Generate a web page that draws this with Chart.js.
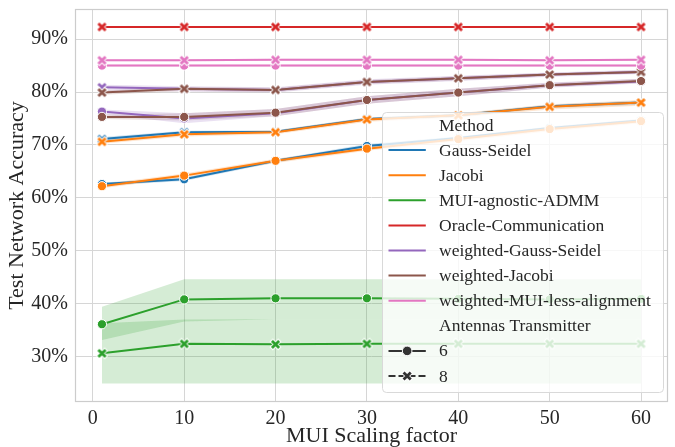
<!DOCTYPE html>
<html><head><meta charset="utf-8">
<script src="https://cdn.jsdelivr.net/npm/chart.js@4"></script>
<style>html,body{margin:0;padding:0;background:#fff;overflow:hidden}</style>
</head><body>
<canvas id="c" width="675" height="447"></canvas>
<script>
// ---------- DATA ----------
const xValues = [1, 10, 20, 30, 40, 50, 60];
const xTicks = [0, 10, 20, 30, 40, 50, 60];
const yTicks = [30, 40, 50, 60, 70, 80, 90];

const methods = ['Gauss-Seidel', 'Jacobi', 'MUI-agnostic-ADMM', 'Oracle-Communication',
                 'weighted-Gauss-Seidel', 'weighted-Jacobi', 'weighted-MUI-less-alignment'];
const methodColors = ['#1f77b4', '#ff7f0e', '#2ca02c', '#d62728', '#9467bd', '#8c564b', '#e377c2'];
const antennas = ['6', '8'];

// mean accuracy (%)
const gs6   = [62.6, 63.5, 67.0, 69.8, 71.3, 73.2, 74.6];
const gs8   = [71.1, 72.4, 72.5, 74.9, 75.6, 77.3, 78.0];
const jac6  = [62.2, 64.2, 67.0, 69.3, 71.1, 73.0, 74.5];
const jac8  = [70.6, 72.0, 72.4, 74.8, 75.6, 77.2, 78.0];
const admm6 = [36.1, 40.8, 41.0, 41.0, 40.9, 40.8, 40.9];
const admm8 = [30.6, 32.4, 32.3, 32.4, 32.4, 32.4, 32.4];
const oracle8 = [92.3, 92.3, 92.3, 92.3, 92.3, 92.3, 92.3];
const wgs6  = [76.3, 75.0, 76.0, 78.5, 79.9, 81.3, 82.0];
const wgs8  = [80.9, 80.6, 80.4, 81.9, 82.6, 83.3, 83.8];
const wj6   = [75.3, 75.3, 76.1, 78.5, 79.9, 81.3, 82.1];
const wj8   = [79.9, 80.6, 80.4, 81.9, 82.6, 83.3, 83.8];
const wmui6 = [85.0, 85.0, 85.0, 85.0, 85.0, 85.0, 85.0];
const wmui8 = [86.0, 86.0, 86.1, 86.1, 86.1, 86.0, 86.1];

// confidence bands (lower / upper, %)
const gs6Lo   = [62.3, 63.2, 66.7, 69.4, 71.0, 72.9, 74.3];
const gs6Hi   = [62.9, 63.8, 67.3, 70.2, 71.6, 73.5, 74.9];
const gs8Lo   = [70.7, 72.1, 72.2, 74.6, 75.3, 77.0, 77.6];
const gs8Hi   = [71.5, 72.7, 72.8, 75.2, 75.9, 77.6, 78.4];
const jac6Lo  = [61.8, 63.8, 66.6, 68.9, 70.7, 72.6, 74.1];
const jac6Hi  = [62.6, 64.6, 67.4, 69.7, 71.5, 73.4, 74.9];
const jac8Lo  = [70.2, 71.6, 72.0, 74.4, 75.2, 76.7, 77.4];
const jac8Hi  = [71.0, 72.4, 72.8, 75.2, 76.0, 77.7, 78.5];
const admm6Lo = [33.1, 36.6, 37.05, 37.05, 37.05, 37.05, 37.05];
const admm6Hi = [39.4, 44.6, 44.6, 44.6, 44.6, 44.6, 44.6];
const admm8Lo = [24.9, 24.9, 24.9, 24.9, 24.9, 24.9, 24.9];
const admm8Hi = [36.3, 37.0, 37.05, 37.05, 37.05, 37.05, 37.05];
const oracle8Lo = [92.2, 92.2, 92.2, 92.2, 92.2, 92.2, 92.2];
const oracle8Hi = [92.4, 92.4, 92.4, 92.4, 92.4, 92.4, 92.4];
const wgs6Lo  = [75.8, 74.1, 75.4, 77.8, 79.2, 80.8, 81.6];
const wgs6Hi  = [76.7, 76.0, 76.8, 79.2, 80.6, 81.8, 82.5];
const wgs8Lo  = [80.3, 80.1, 79.9, 81.4, 82.1, 82.9, 83.4];
const wgs8Hi  = [81.4, 81.1, 80.9, 82.4, 83.1, 83.7, 84.2];
const wj6Lo   = [74.9, 74.6, 75.4, 77.8, 79.2, 80.9, 81.7];
const wj6Hi   = [75.7, 76.0, 76.8, 79.2, 80.6, 81.7, 82.5];
const wj8Lo   = [79.5, 80.2, 80.0, 81.5, 82.2, 83.0, 83.5];
const wj8Hi   = [80.3, 81.0, 80.8, 82.3, 83.0, 83.6, 84.1];
const wmui6Lo = [84.8, 84.8, 84.8, 84.8, 84.8, 84.8, 84.8];
const wmui6Hi = [85.2, 85.2, 85.2, 85.2, 85.2, 85.2, 85.2];
const wmui8Lo = [85.8, 85.8, 85.9, 85.9, 85.9, 85.8, 85.9];
const wmui8Hi = [86.2, 86.2, 86.3, 86.3, 86.3, 86.2, 86.3];

// series in seaborn draw order: [methodIndex, antenna, mean, lo, hi]
const series = [
  [0, '6', gs6, gs6Lo, gs6Hi], [0, '8', gs8, gs8Lo, gs8Hi],
  [1, '6', jac6, jac6Lo, jac6Hi], [1, '8', jac8, jac8Lo, jac8Hi],
  [2, '6', admm6, admm6Lo, admm6Hi], [2, '8', admm8, admm8Lo, admm8Hi],
  [3, '8', oracle8, oracle8Lo, oracle8Hi],
  [4, '6', wgs6, wgs6Lo, wgs6Hi], [4, '8', wgs8, wgs8Lo, wgs8Hi],
  [5, '6', wj6, wj6Lo, wj6Hi], [5, '8', wj8, wj8Lo, wj8Hi],
  [6, '6', wmui6, wmui6Lo, wmui6Hi], [6, '8', wmui8, wmui8Lo, wmui8Hi]
];

// ---------- HELPERS ----------
const FONT = "'Liberation Serif', 'DejaVu Serif', serif";
const TXT = '#262626';
function rgba(hex, a) {
  const n = parseInt(hex.slice(1), 16);
  return `rgba(${(n >> 16) & 255},${(n >> 8) & 255},${n & 255},${a})`;
}
function drawX(ctx, cx, cy, s, color) {
  ctx.save();
  ctx.lineCap = 'butt';
  ctx.strokeStyle = '#ffffff'; ctx.lineWidth = 4.6;
  ctx.beginPath();
  ctx.moveTo(cx - s - 0.7, cy - s - 0.7); ctx.lineTo(cx + s + 0.7, cy + s + 0.7);
  ctx.moveTo(cx - s - 0.7, cy + s + 0.7); ctx.lineTo(cx + s + 0.7, cy - s - 0.7);
  ctx.stroke();
  ctx.strokeStyle = color; ctx.lineWidth = 2.8;
  ctx.beginPath();
  ctx.moveTo(cx - s, cy - s); ctx.lineTo(cx + s, cy + s);
  ctx.moveTo(cx - s, cy + s); ctx.lineTo(cx + s, cy - s);
  ctx.stroke();
  ctx.restore();
}
function xMarker(color) {
  const cv = document.createElement('canvas');
  cv.width = 13; cv.height = 13;
  drawX(cv.getContext('2d'), 6.5, 6.5, 3.6, color);
  return cv;
}
const pts = arr => xValues.map((x, i) => ({ x: x, y: arr[i] }));

// ---------- DATASETS ----------
const datasets = [];
series.forEach((s, k) => {
  const col = methodColors[s[0]];
  datasets.push({ label: '_lo' + k, data: pts(s[3]), borderColor: 'rgba(0,0,0,0)', borderWidth: 0,
    pointRadius: 0, fill: false, order: 1000 });
  datasets.push({ label: '_hi' + k, data: pts(s[4]), borderColor: 'rgba(0,0,0,0)', borderWidth: 0,
    pointRadius: 0, fill: '-1', backgroundColor: rgba(col, 0.2), order: 1000 });
});
series.forEach((s, k) => {
  const col = methodColors[s[0]];
  const isSix = s[1] === antennas[0];
  datasets.push({
    label: methods[s[0]] + ' ' + s[1], data: pts(s[2]), borderColor: col, borderWidth: 2,
    fill: false, tension: 0, order: 100 - k,
    pointStyle: isSix ? 'circle' : xMarker(col),
    pointRadius: isSix ? 4.6 : 5, pointHoverRadius: isSix ? 4.6 : 5,
    pointBackgroundColor: col, pointBorderColor: '#ffffff', pointBorderWidth: isSix ? 1 : 0
  });
});

// ---------- PLUGINS ----------
const framePlugin = {
  id: 'frame',
  beforeDatasetsDraw(chart) {
    const a = chart.chartArea, c = chart.ctx;
    c.save(); c.strokeStyle = '#cccccc'; c.lineWidth = 1.2;
    c.strokeRect(a.left + 0.5, a.top + 0.5, a.right - a.left - 1, a.bottom - a.top - 1);
    c.restore();
  }
};

const legendPlugin = {
  id: 'customLegend',
  afterDraw(chart) {
    const c = chart.ctx;
    c.save();
    const bx = 382.5, by = 112.5, bw = 281, bh = 280, r = 4;
    c.beginPath();
    c.moveTo(bx + r, by); c.lineTo(bx + bw - r, by); c.arcTo(bx + bw, by, bx + bw, by + r, r);
    c.lineTo(bx + bw, by + bh - r); c.arcTo(bx + bw, by + bh, bx + bw - r, by + bh, r);
    c.lineTo(bx + r, by + bh); c.arcTo(bx, by + bh, bx, by + bh - r, r);
    c.lineTo(bx, by + r); c.arcTo(bx, by, bx + r, by, r); c.closePath();
    c.fillStyle = 'rgba(255,255,255,0.8)'; c.fill();
    c.strokeStyle = '#d9d9d9'; c.lineWidth = 1; c.stroke();

    const tx = 439, x1 = 388.5, x2 = 425.8, xm = (x1 + x2) / 2;
    const y0 = 125, dy = 25.1;
    c.font = '17.5px ' + FONT; c.fillStyle = TXT; c.textBaseline = 'middle'; c.textAlign = 'left';
    const rows = [{ t: 'Method' }];
    methods.forEach((m, i) => rows.push({ t: m, col: methodColors[i] }));
    rows.push({ t: 'Antennas Transmitter' });
    antennas.forEach((a, i) => rows.push({ t: a, ant: i }));
    rows.forEach((row, i) => {
      const y = y0 + i * dy;
      c.fillStyle = TXT;
      c.fillText(row.t, tx, y + 1);
      if (row.col) {
        c.strokeStyle = row.col; c.lineWidth = 2; c.setLineDash([]);
        c.beginPath(); c.moveTo(x1, y); c.lineTo(x2, y); c.stroke();
      } else if (row.ant !== undefined) {
        const dk = '#333333';
        c.strokeStyle = dk; c.lineWidth = 2;
        c.setLineDash(row.ant === 0 ? [] : [7, 3]);
        c.beginPath(); c.moveTo(x1, y); c.lineTo(x2, y); c.stroke();
        c.setLineDash([]);
        if (row.ant === 0) {
          c.beginPath(); c.arc(xm, y, 4.8, 0, Math.PI * 2);
          c.fillStyle = dk; c.fill(); c.strokeStyle = '#fff'; c.lineWidth = 1; c.stroke();
        } else {
          drawX(c, xm, y, 3.6, dk);
        }
      }
    });
    c.restore();
  }
};

// ---------- CHART ----------
new Chart(document.getElementById('c'), {
  type: 'line',
  data: { datasets: datasets },
  plugins: [framePlugin, legendPlugin],
  options: {
    responsive: false, animation: false, devicePixelRatio: 1,
    layout: { padding: { top: 9, right: 7, left: 0, bottom: 0 } },
    plugins: { legend: { display: false }, tooltip: { enabled: false } },
    elements: { line: { tension: 0 } },
    scales: {
      x: {
        type: 'linear', min: -1.95, max: 62.95,
        afterBuildTicks: s => { s.ticks = xTicks.map(v => ({ value: v })); },
        afterFit: s => { s.height = 45; s.paddingLeft = 0; s.paddingRight = 0; },
        grid: { color: '#d6d6d6', lineWidth: 1, drawTicks: false },
        border: { display: false },
        ticks: { padding: 5, color: TXT, font: { family: FONT, size: 20 } },
        title: { display: true, text: 'MUI Scaling factor', color: TXT,
                 font: { family: FONT, size: 22, lineHeight: 1 }, padding: { top: 0, bottom: 0 } }
      },
      y: {
        type: 'linear', min: 21.4, max: 95.7,
        afterBuildTicks: s => { s.ticks = yTicks.map(v => ({ value: v })); },
        afterFit: s => { s.width = 75; s.paddingTop = 0; s.paddingBottom = 0; },
        grid: { color: '#d6d6d6', lineWidth: 1, drawTicks: false },
        border: { display: false },
        ticks: { padding: 7, color: TXT, font: { family: FONT, size: 20 }, callback: v => v + '%' },
        title: { display: true, text: 'Test Network Accuracy', color: TXT,
                 font: { family: FONT, size: 22, lineHeight: 1.2 }, padding: { top: 4, bottom: 0 } }
      }
    }
  }
});
</script>
</body></html>
